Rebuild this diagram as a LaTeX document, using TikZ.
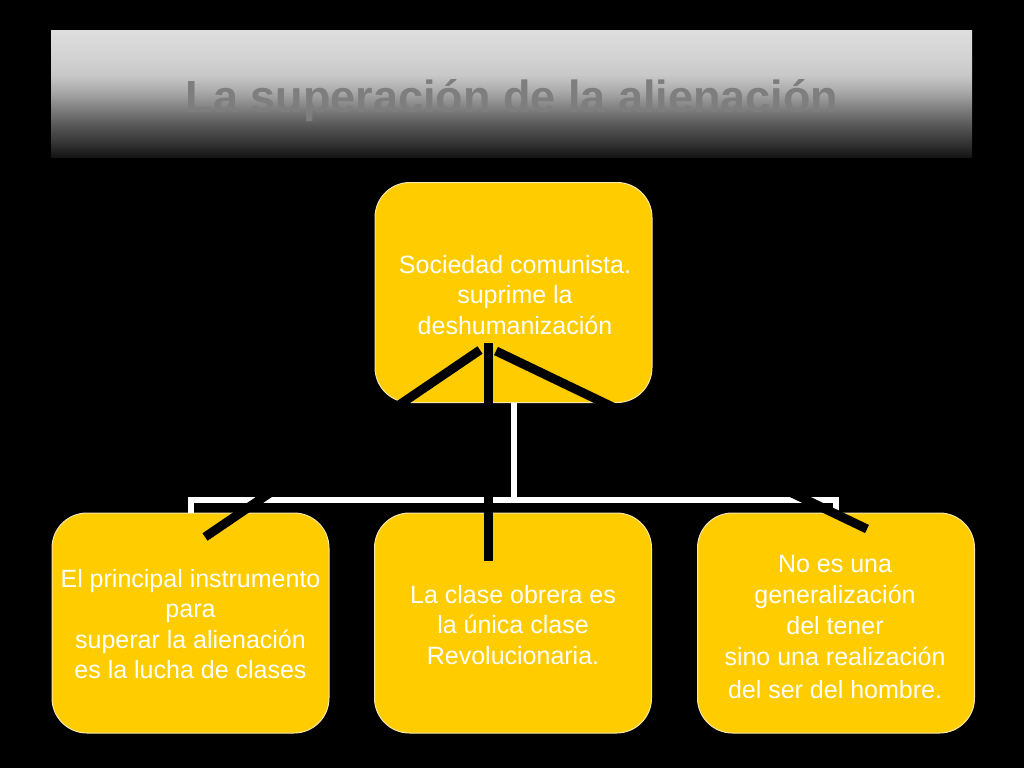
\documentclass[tikz,border=0pt]{standalone}
\usepackage{fontspec}
\setmainfont{Liberation Sans}
\definecolor{gold}{HTML}{FFCC00}
\definecolor{edge}{HTML}{F7E7B0}
\definecolor{titlegray}{HTML}{7E7E7E}
\definecolor{g0}{HTML}{141414}
\definecolor{g1}{HTML}{363636}
\definecolor{g2}{HTML}{585858}
\definecolor{g3}{HTML}{808080}
\definecolor{g4}{HTML}{A8A8A8}
\definecolor{g5}{HTML}{C8C8C8}
\definecolor{g6}{HTML}{D2D2D2}
\definecolor{g7}{HTML}{DEDEDE}
\pgfdeclareverticalshading{bandshade}{100bp}{color(0bp)=(g0); color(25bp)=(g0); color(30.95bp)=(g1); color(37.7bp)=(g2); color(44.4bp)=(g3); color(50.8bp)=(g4); color(57.5bp)=(g5); color(64.3bp)=(g6); color(75bp)=(g7); color(100bp)=(g7)}
\tikzset{
  ybox/.style={draw=edge, line width=1pt, fill=gold, rounded corners=35pt,
    minimum width=277pt, minimum height=220pt, inner sep=0pt},
  boxtext/.style={align=center, text=white, inner sep=0pt,
    font=\fontsize{25}{30.5}\selectfont},
  whiteline/.style={draw=white, line width=6pt, line join=miter},
  blackline/.style={draw=black, line width=9pt},
  titletext/.style={text=titlegray, font=\fontsize{45}{50}\selectfont\bfseries}
}
\begin{document}
\begin{tikzpicture}[x=1pt,y=-1pt]
\useasboundingbox (0,0) rectangle (1024,768);
\fill[black] (0,0) rectangle (1024,768);
\shade[shading=bandshade] (51,31) rectangle (972,157);
\node[titletext, anchor=base] (title) at (512,112) {La superación de la alienación};

\node[ybox] (top) at (513.5,292.5) {};
\node[boxtext] (toptext) at (515,295) {Sociedad comunista.\\suprime la\\deshumanización};
\node[ybox] (left) at (190.5,623) {};
\node[boxtext] (lefttext) at (190.5,624) {El principal instrumento\\para\\superar la alienación\\es la lucha de clases};
\node[ybox] (mid) at (513,623) {};
\node[boxtext] (midtext) at (513,625) {La clase obrera es\\la única clase\\Revolucionaria.};
\node[ybox] (right) at (836,623) {};
\node[boxtext, font=\fontsize{25}{31}\selectfont] (righttext) at (835,627) {No es una\\generalización\\del tener\\sino una realización\\[2pt]del ser del hombre.};

\coordinate (bus) at (513.5,500);
\draw[whiteline] (top.south) -- (bus);
\draw[whiteline] (left.north) |- (bus) -| (right.north);

\coordinate (ls) at (480,350);
\coordinate (le) at (205,537);
\coordinate (cs) at (488,343);
\coordinate (ce) at (488,561);
\coordinate (rs) at (496,351);
\coordinate (re) at (867,529);
\draw[blackline] (ls) -- (le);
\draw[blackline] (cs) -- (ce);
\draw[blackline] (rs) -- (re);
\end{tikzpicture}
\end{document}
